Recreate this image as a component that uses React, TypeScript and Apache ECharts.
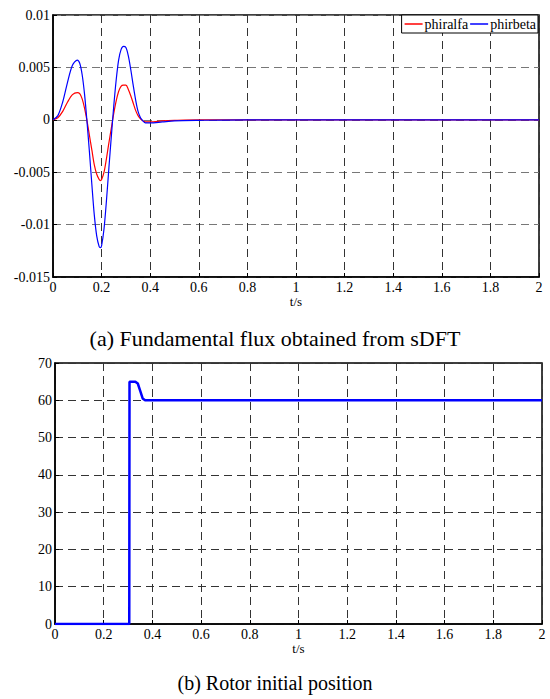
import React, { useEffect, useRef } from "react";
import * as echarts from "echarts";

const FONT = "Liberation Serif";

const fluxTime = [0, 0.02, 0.04, 0.06, 0.08, 0.1, 0.11, 0.12, 0.13, 0.14, 0.15, 0.16, 0.17, 0.18, 0.19, 0.195, 0.2, 0.21, 0.22, 0.23, 0.24, 0.25, 0.26, 0.27, 0.28, 0.29, 0.3, 0.31, 0.32, 0.33, 0.34, 0.35, 0.36, 0.37, 0.38, 0.4, 0.45, 0.5, 0.6, 0.8, 1.0, 1.5, 2.0];
const phirbeta = [0, 0.0004, 0.0017, 0.0036, 0.0052, 0.0057, 0.0054, 0.0043, 0.0024, -0.0002, -0.0031, -0.0062, -0.0091, -0.0111, -0.0121, -0.0122, -0.012, -0.0104, -0.0077, -0.0046, -0.0016, 0.0013, 0.0038, 0.0057, 0.0067, 0.007, 0.0069, 0.0061, 0.0048, 0.0033, 0.0019, 0.0008, 0.0002, -0.0001, -0.0003, -0.0003, -0.0002, -0.0001, -0.00005, 0, 0, 0, 0];
const phiralfa = [0, 0.0002, 0.0008, 0.0017, 0.0024, 0.0026, 0.0025, 0.002, 0.0011, -0.0001, -0.0015, -0.0029, -0.0043, -0.0052, -0.0057, -0.0058, -0.0057, -0.005, -0.0037, -0.0022, -0.0008, 0.0006, 0.0018, 0.0027, 0.0032, 0.0033, 0.0033, 0.0029, 0.0023, 0.0016, 0.0009, 0.0004, 0.0001, -0.0001, -0.0002, -0.0002, -0.0001, -0.00005, 0, 0, 0, 0, 0];

const posTime = [0, 0.305, 0.306, 0.33, 0.34, 0.35, 0.36, 0.37, 2.0];
const position = [0, 0, 65, 65, 64.5, 62.5, 60.5, 60, 60];

const captionA = "(a) Fundamental flux obtained from sDFT";
const captionB = "(b) Rotor initial position";

const zip = (xs: number[], ys: number[]) => xs.map((x, i) => [x, ys[i]]);

export default function App() {
  const ref = useRef<HTMLDivElement>(null);
  useEffect(() => {
    document.body.style.margin = "0";
    const chart = echarts.init(ref.current!, null, { renderer: "svg" });
    const labelStyle = { color: "#000", fontFamily: FONT, fontSize: 14 };
    const xAxisBase = {
      type: "value",
      min: 0,
      max: 2,
      interval: 0.2,
      name: "t/s",
      nameLocation: "middle",
      nameGap: 17,
      nameTextStyle: { color: "#000", fontFamily: FONT, fontSize: 13 },
      axisLine: { onZero: false, lineStyle: { color: "#000", width: 1.5 } },
      axisTick: { inside: true, length: 4, lineStyle: { color: "#000" } },
      axisLabel: { ...labelStyle, margin: 3, formatter: (v: number) => String(+v.toFixed(1)) },
      splitLine: { show: true, lineStyle: { color: "#333", type: [8, 5], width: 1 } },
    };
    chart.setOption({
      animation: false,
      title: [
        { text: captionA, left: "center", top: 322, textStyle: { color: "#000", fontFamily: FONT, fontSize: 22, fontWeight: "normal" } },
        { text: captionB, left: "center", top: 668, textStyle: { color: "#000", fontFamily: FONT, fontSize: 20, fontWeight: "normal" } },
      ],
      legend: {
        data: ["phiralfa", "phirbeta"],
        right: 12,
        top: 15,
        orient: "horizontal",
        backgroundColor: "#fff",
        borderColor: "#000",
        borderWidth: 1,
        padding: [2, 2, 2, 3],
        itemGap: 2,
        itemWidth: 18,
        itemHeight: 1.5,
        icon: "rect",
        textStyle: { color: "#000", fontFamily: FONT, fontSize: 14, padding: [0, 0, 0, -3] },
      },
      grid: [
        { left: 53, right: 11, top: 15, height: 262, show: true, borderColor: "#000", borderWidth: 1.5, backgroundColor: "#fff" },
        { left: 55, right: 8, top: 363, height: 261, show: true, borderColor: "#000", borderWidth: 1.5, backgroundColor: "#fff" },
      ],
      xAxis: [
        { ...xAxisBase, gridIndex: 0 },
        { ...xAxisBase, gridIndex: 1 },
      ],
      yAxis: [
        {
          type: "value",
          gridIndex: 0,
          min: -0.015,
          max: 0.01,
          interval: 0.005,
          axisLine: { show: true, lineStyle: { color: "#000", width: 1.5 } },
          axisTick: { show: true, inside: true, length: 4, lineStyle: { color: "#000" } },
          axisLabel: { ...labelStyle, margin: 3, formatter: (v: number) => String(+v.toFixed(3)) },
          splitLine: { show: true, lineStyle: { color: "#777", type: [8, 5], width: 1 } },
        },
        {
          type: "value",
          gridIndex: 1,
          min: 0,
          max: 70,
          interval: 10,
          axisLine: { show: true, lineStyle: { color: "#000", width: 1.5 } },
          axisTick: { show: true, inside: true, length: 4, lineStyle: { color: "#000" } },
          axisLabel: { ...labelStyle, margin: 3 },
          splitLine: { show: true, lineStyle: { color: "#333", type: [8, 5], width: 1 } },
        },
      ],
      series: [
        {
          name: "phiralfa",
          type: "line",
          xAxisIndex: 0,
          yAxisIndex: 0,
          data: zip(fluxTime, phiralfa),
          smooth: 0.3,
          showSymbol: false,
          color: "#ff0000",
          lineStyle: { color: "#ff0000", width: 1.2 },
        },
        {
          name: "phirbeta",
          type: "line",
          xAxisIndex: 0,
          yAxisIndex: 0,
          data: zip(fluxTime, phirbeta),
          smooth: 0.3,
          showSymbol: false,
          color: "#0000ff",
          lineStyle: { color: "#0000ff", width: 1.2 },
        },
        {
          name: "position",
          type: "line",
          xAxisIndex: 1,
          yAxisIndex: 1,
          data: zip(posTime, position),
          showSymbol: false,
          color: "#0000ff",
          lineStyle: { color: "#0000ff", width: 2.5 },
        },
      ],
    });
    return () => chart.dispose();
  }, []);
  return <div ref={ref} style={{ width: 550, height: 699 }} />;
}
